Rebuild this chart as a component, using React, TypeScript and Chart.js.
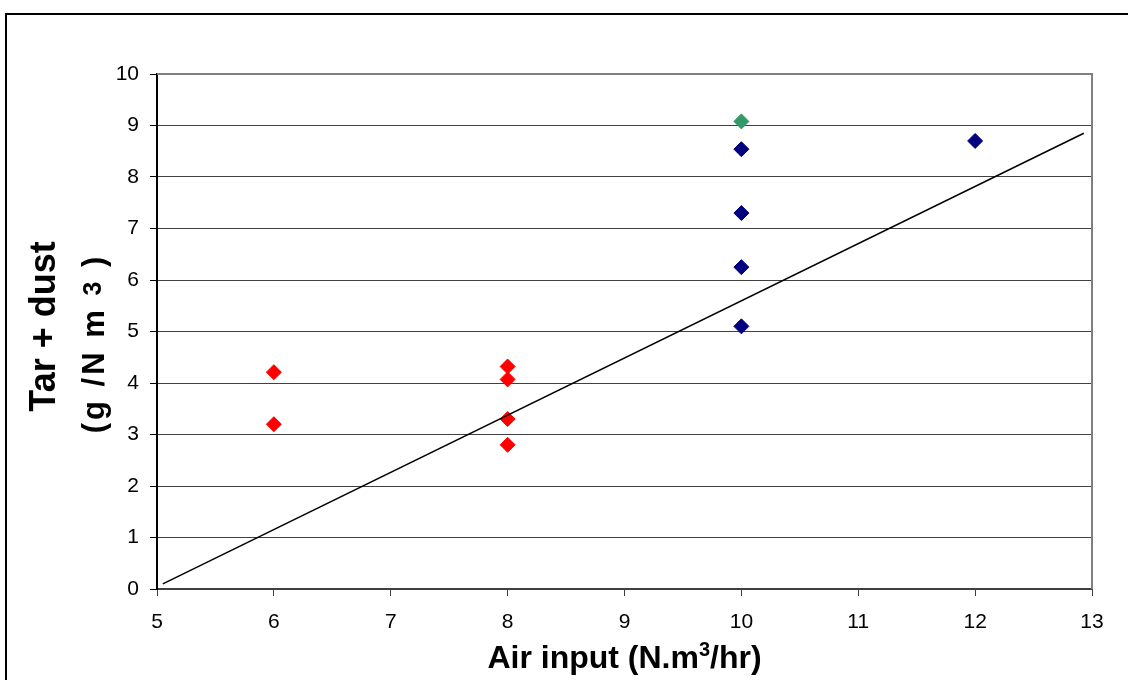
import React, { useEffect, useRef } from "react";
import { Chart, registerables } from "chart.js";

Chart.register(...registerables);

const redX = [6, 6, 8, 8, 8, 8];
const redY = [4.21, 3.2, 4.32, 4.07, 3.3, 2.8];
const blueX = [10, 10, 10, 10, 12];
const blueY = [8.54, 7.3, 6.25, 5.1, 8.7];
const greenX = [10];
const greenY = [9.08];
const trendX = [5.05, 12.93];
const trendY = [0.1, 8.85];

const xTitle = "Air input (N.m";
const xTitleSup = "3";
const xTitleEnd = "/hr)";
const yTitle1 = "Tar + dust";
const yTitle2 = "(g /N m ";
const yTitle2Sup = "3";
const yTitle2End = " )";

const FONT = '"Liberation Sans", Arial, sans-serif';

const zip = (xs: number[], ys: number[]) => xs.map((x, i) => ({ x, y: ys[i] }));

const decor = {
  id: "decor",
  beforeDatasetsDraw(chart: any) {
    const { ctx, chartArea: a } = chart;
    ctx.save();
    ctx.strokeStyle = "#808080";
    ctx.lineWidth = 2;
    ctx.beginPath();
    ctx.moveTo(a.left, a.top);
    ctx.lineTo(a.right, a.top);
    ctx.lineTo(a.right, a.bottom);
    ctx.stroke();
    ctx.restore();
  },
  afterDraw(chart: any) {
    const { ctx, chartArea: a } = chart;
    ctx.save();
    ctx.strokeStyle = "#000";
    ctx.lineWidth = 2;
    ctx.strokeRect(6, 14, 2000, 2000);

    ctx.fillStyle = "#000";
    ctx.textBaseline = "alphabetic";
    ctx.textAlign = "left";
    const big = `bold 32px ${FONT}`;
    const small = `bold 20px ${FONT}`;
    ctx.font = big;
    const w1 = ctx.measureText(xTitle).width;
    const w3 = ctx.measureText(xTitleEnd).width;
    ctx.font = small;
    const w2 = ctx.measureText(xTitleSup).width;
    const total = w1 + w2 + w3;
    const cx = (a.left + a.right) / 2;
    let x = cx - total / 2;
    const by = 668;
    ctx.font = big;
    ctx.fillText(xTitle, x, by);
    x += w1;
    ctx.font = small;
    ctx.fillText(xTitleSup, x, by - 12);
    x += w2;
    ctx.font = big;
    ctx.fillText(xTitleEnd, x, by);

    const cy = (a.top + a.bottom) / 2;
    ctx.save();
    ctx.translate(55, cy - 5);
    ctx.rotate(-Math.PI / 2);
    ctx.font = `bold 36px ${FONT}`;
    ctx.textAlign = "center";
    ctx.fillText(yTitle1, 0, 0);
    ctx.restore();

    ctx.save();
    ctx.translate(104, cy + 12);
    ctx.rotate(-Math.PI / 2);
    (ctx as any).letterSpacing = "3px";
    ctx.textAlign = "left";
    const f2 = `bold 31px ${FONT}`;
    const f2s = `bold 25px ${FONT}`;
    ctx.font = f2;
    const a1 = ctx.measureText(yTitle2).width;
    const a3 = ctx.measureText(yTitle2End).width;
    ctx.font = f2s;
    const a2 = ctx.measureText(yTitle2Sup).width;
    let t = -(a1 + a2 + a3) / 2;
    ctx.font = f2;
    ctx.fillText(yTitle2, t, 0);
    t += a1;
    ctx.font = f2s;
    ctx.fillText(yTitle2Sup, t, -3);
    t += a2;
    ctx.font = f2;
    ctx.fillText(yTitle2End, t, 0);
    ctx.restore();

    ctx.restore();
  },
};

export default function App() {
  const ref = useRef<HTMLCanvasElement>(null);
  useEffect(() => {
    if (!ref.current) return;
    const pt = (color: string) => ({
      pointStyle: "rectRot" as const,
      pointRadius: 7.5,
      pointHoverRadius: 7.5,
      backgroundColor: color,
      borderColor: color,
      borderWidth: 1,
      showLine: false,
    });
    const chart = new Chart(ref.current, {
      type: "scatter",
      data: {
        datasets: [
          {
            label: "trend",
            data: zip(trendX, trendY),
            showLine: true,
            pointRadius: 0,
            borderColor: "#000",
            borderWidth: 1.5,
            backgroundColor: "#000",
          } as any,
          { label: "red", data: zip(redX, redY), ...pt("#FF0000") },
          { label: "blue", data: zip(blueX, blueY), ...pt("#000080") },
          { label: "green", data: zip(greenX, greenY), ...pt("#339966") },
        ],
      },
      options: {
        animation: false,
        responsive: false,
        maintainAspectRatio: false,
        layout: { padding: { top: 74, right: 36, left: 0, bottom: 0 } },
        plugins: { legend: { display: false }, tooltip: { enabled: false } },
        scales: {
          x: {
            type: "linear",
            min: 5,
            max: 13,
            afterFit: (s: any) => {
              s.height = 91;
            },
            ticks: {
              stepSize: 1,
              color: "#000",
              padding: 14,
              font: { family: FONT, size: 21 },
            },
            grid: {
              drawOnChartArea: false,
              drawTicks: true,
              tickLength: 7,
              tickColor: "#404040",
              tickWidth: 1,
            },
            border: { color: "#404040", width: 2 },
          },
          y: {
            type: "linear",
            min: 0,
            max: 10,
            afterFit: (s: any) => {
              s.width = 157;
            },
            ticks: {
              stepSize: 1,
              color: "#000",
              padding: 11,
              font: { family: FONT, size: 21 },
            },
            grid: {
              color: (c: any) => (c.tick && (c.tick.value === 10 || c.tick.value === 0) ? "rgba(0,0,0,0)" : "#404040"),
              lineWidth: 1,
              drawTicks: true,
              tickLength: 7,
              tickColor: "#000",
              tickWidth: 1,
            },
            border: { color: "#000", width: 2 },
          },
        },
      },
      plugins: [decor],
    });
    return () => chart.destroy();
  }, []);
  return (
    <div style={{ position: "fixed", left: 0, top: 0, width: 1128, height: 680, background: "#fff" }}>
      <canvas ref={ref} width={1128} height={680} style={{ display: "block", width: 1128, height: 680 }} />
    </div>
  );
}
